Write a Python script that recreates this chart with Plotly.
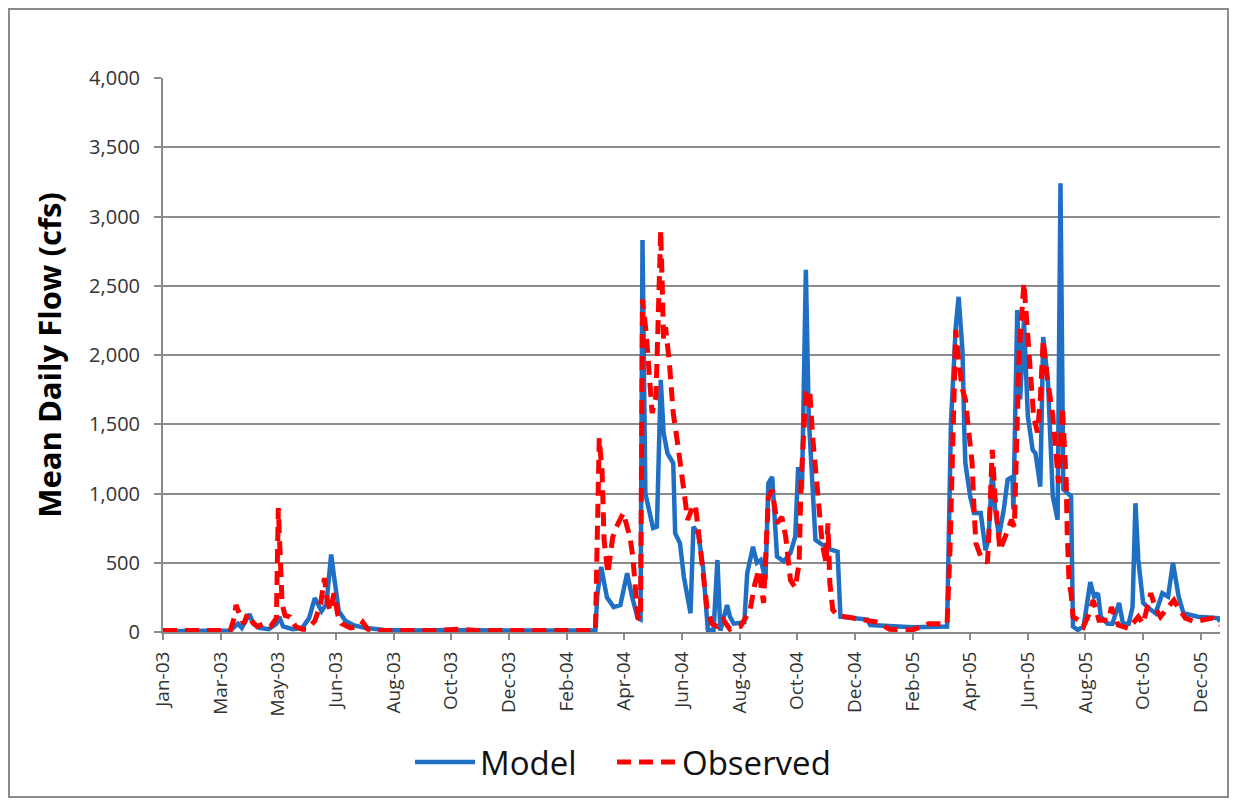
import pandas as pd
import plotly.graph_objects as go

# ---- data (days since 2003-01-01, flow in cfs) ----
model_day = [0, 60, 70, 78, 82, 90, 94, 100, 110, 118, 121, 125, 135, 145, 152, 158, 165, 170, 175, 178,
             183, 190, 198, 210, 230, 260, 300, 350, 400, 450, 452, 456, 462, 469, 476, 483, 488, 494, 497, 499,
             502, 510, 514, 518, 521, 525, 531, 533, 538, 542, 549, 552, 557, 562, 567, 573, 577, 580, 587, 590,
             594, 605, 608, 614, 618, 622, 627, 630, 634, 637, 639, 646, 653, 658, 661, 665, 669, 672, 676, 679,
             684, 695, 702, 705, 733, 736, 780, 816, 820, 825, 828, 832, 834, 835, 840, 844, 851, 856, 859, 863,
             866, 870, 875, 879, 884, 885, 889, 892, 896, 900, 905, 908, 913, 916, 921, 926, 931, 934, 937, 945,
             947, 952, 958, 965, 969, 973, 976, 983, 988, 995, 999, 1005, 1009, 1012, 1015, 1020, 1028, 1033, 1040, 1046,
             1051, 1054, 1057, 1062, 1077, 1098, 1100]
model_flow = [5, 5, 10, 60, 30, 130, 60, 30, 20, 60, 110, 40, 20, 30, 100, 245, 150, 200, 560, 400,
              150, 80, 50, 30, 15, 10, 15, 10, 10, 10, 270, 470, 250, 180, 195, 425, 260, 100, 90, 2830,
              1000, 750, 760, 1820, 1435, 1290, 1220, 713, 640, 400, 135, 760, 710, 470, 15, 15, 520, 10, 195, 110,
              60, 70, 425, 615, 500, 520, 380, 1075, 1120, 840, 545, 510, 570, 690, 1190, 1030, 2615, 1555, 1030, 665,
              640, 595, 580, 110, 90, 50, 35, 40, 1510, 2205, 2420, 2030, 1430, 1220, 980, 860, 860, 590, 665, 1170,
              885, 690, 885, 1100, 1120, 885, 2325, 1680, 2250, 1560, 1315, 1290, 1050, 2130, 1800, 980, 810, 3240, 1030, 980,
              40, 15, 40, 360, 255, 280, 110, 60, 60, 210, 60, 60, 180, 930, 520, 210, 160, 135, 280, 255,
              500, 380, 255, 135, 110, 100, 75]

obs_day = [0, 40, 70, 74, 76, 80, 84, 88, 92, 98, 105, 112, 118, 120, 122, 124, 127, 132, 138, 145,
           150, 158, 164, 168, 171, 174, 178, 182, 186, 195, 205, 208, 213, 230, 280, 310, 330, 450, 454, 457,
           459, 463, 468, 472, 479, 486, 489, 494, 497, 499, 503, 506, 509, 513, 517, 518, 521, 523, 527, 531,
           536, 542, 546, 551, 554, 559, 566, 571, 577, 583, 590, 601, 606, 611, 616, 620, 625, 627, 630, 634,
           639, 644, 648, 653, 658, 662, 664, 669, 673, 676, 679, 683, 686, 690, 692, 694, 697, 702, 712, 733,
           744, 756, 780, 797, 816, 819, 822, 825, 828, 832, 835, 838, 842, 844, 846, 851, 858, 860, 863, 866,
           871, 878, 883, 886, 889, 891, 896, 900, 903, 906, 910, 913, 916, 920, 926, 929, 932, 936, 938, 940,
           941, 943, 945, 947, 953, 958, 964, 968, 974, 984, 987, 994, 1005, 1015, 1020, 1028, 1033, 1038, 1046, 1052,
           1056, 1064, 1073, 1083, 1092, 1100]
obs_flow = [10, 10, 10, 100, 195, 120, 60, 130, 80, 40, 60, 40, 100, 895, 600, 200, 120, 110, 40, 20,
            20, 80, 200, 390, 230, 150, 280, 120, 60, 30, 40, 70, 20, 10, 10, 20, 10, 10, 1400, 1150,
            665, 420, 685, 760, 860, 685, 540, 110, 90, 2400, 2150, 1820, 1580, 1700, 2760, 2900, 2110, 2200, 1940, 1580,
            1340, 1000, 810, 900, 920, 615, 180, 60, 40, 90, 20, 40, 100, 160, 350, 450, 210, 500, 975, 1025,
            785, 830, 690, 375, 320, 500, 1075, 1725, 1750, 1415, 1190, 930, 640, 500, 785, 350, 160, 120, 110, 90,
            70, 20, 15, 60, 60, 590, 1315, 2180, 1960, 1750, 1680, 1490, 1220, 885, 640, 545, 500, 785, 1315, 960,
            590, 715, 810, 760, 1560, 2030, 2520, 2160, 1870, 1560, 1440, 1680, 2110, 1850, 1560, 1315, 1075, 1625, 1315, 1075,
            715, 350, 280, 110, 85, 40, 135, 230, 85, 85, 180, 50, 25, 110, 60, 280, 170, 110, 180, 230,
            180, 100, 75, 85, 100, 50]

tick_dates = ["2003-01-01", "2003-03-02", "2003-05-01", "2003-06-30", "2003-08-29", "2003-10-28",
              "2003-12-27", "2004-02-25", "2004-04-25", "2004-06-24", "2004-08-23", "2004-10-22",
              "2004-12-21", "2005-02-19", "2005-04-20", "2005-06-19", "2005-08-18", "2005-10-17",
              "2005-12-16"]
tick_labels = ["Jan-03", "Mar-03", "May-03", "Jun-03", "Aug-03", "Oct-03", "Dec-03", "Feb-04",
               "Apr-04", "Jun-04", "Aug-04", "Oct-04", "Dec-04", "Feb-05", "Apr-05", "Jun-05",
               "Aug-05", "Oct-05", "Dec-05"]

start = pd.Timestamp("2003-01-01")
model_x = start + pd.to_timedelta(model_day, unit="D")
obs_x = start + pd.to_timedelta(obs_day, unit="D")

FONT = "Open Sans"
fig = go.Figure()
fig.add_trace(go.Scatter(x=model_x, y=model_flow, mode="lines", name="Model", legend="legend",
                         line=dict(color="#1F6FC5", width=4.5)))
fig.add_trace(go.Scatter(x=obs_x, y=obs_flow, mode="lines", name="Observed", legend="legend2",
                         line=dict(color="#FF0000", width=5, dash="14px,8px")))

legend_style = dict(orientation="h", xanchor="left", y=-0.2347, yanchor="middle",
                    font=dict(size=33, family=FONT, color="#111111"), itemwidth=60,
                    bgcolor="rgba(0,0,0,0)")

# page body has an 8px margin, so the figure is sized/offset to compensate
fig.update_layout(
    width=1229, height=795,
    margin=dict(l=155, r=17, t=70, b=171),
    paper_bgcolor="white", plot_bgcolor="white",
    font=dict(family=FONT, color="#222222"),
    showlegend=True,
    legend=dict(x=0.2337, **legend_style),
    legend2=dict(x=0.4248, **legend_style),
    shapes=[dict(type="rect", xref="paper", yref="paper",
                 x0=-0.1457, x1=1.0076, y0=-0.2978, y1=1.1245,
                 line=dict(color="#8a8a8a", width=2), fillcolor="rgba(0,0,0,0)", layer="below")],
)

fig.update_yaxes(
    range=[0, 4000], dtick=500, tickformat=",",
    showgrid=True, gridcolor="#8c8c8c", gridwidth=1.5,
    showline=True, linecolor="#8a8a8a", linewidth=2,
    ticks="outside", ticklen=7, tickcolor="#8a8a8a", tickwidth=1.5,
    tickfont=dict(size=20, family=FONT, color="#333333"), ticklabelstandoff=10,
    zeroline=False,
    title=dict(text="<b>Mean Daily Flow (cfs)</b>", font=dict(size=31, family=FONT, color="#000000"),
               standoff=18),
)
fig.update_xaxes(
    type="date", range=["2003-01-01", "2006-01-05"],
    tickmode="array", tickvals=tick_dates, ticktext=tick_labels, tickangle=-90,
    showgrid=False, showline=True, linecolor="#8a8a8a", linewidth=2,
    ticks="outside", ticklen=6, tickcolor="#8a8a8a", tickwidth=1.5,
    tickfont=dict(size=19, family=FONT, color="#333333"), ticklabelstandoff=4,
    zeroline=False,
)

fig.write_html("out.html")
